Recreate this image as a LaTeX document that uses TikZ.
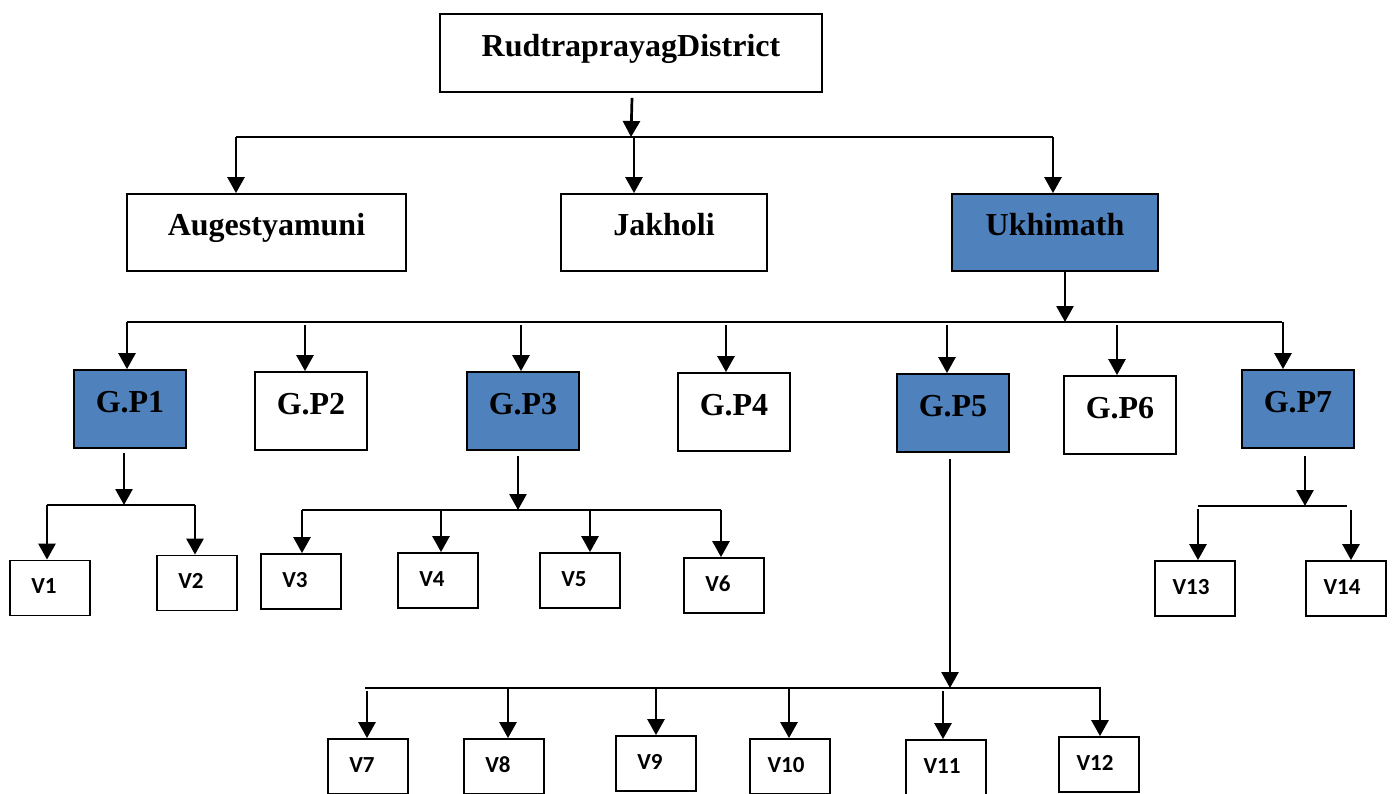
\documentclass[tikz,border=0pt]{standalone}
\usepackage{fontspec}
\setmainfont{Liberation Serif}
\newfontfamily\vfont{Carlito}
\usetikzlibrary{arrows.meta,calc}
\definecolor{gpblue}{HTML}{4F81BD}
\begin{document}
\begin{tikzpicture}[x=1pt,y=-1pt,
  hbox/.style={draw=black,line width=1.8pt,inner sep=0pt,
    font=\bfseries\fontsize{32}{38}\selectfont,text height=22pt,text depth=16pt},
  bluebox/.style={hbox,fill=gpblue},
  gpbox/.style={minimum width=112pt,minimum height=78pt},
  vbox/.style={draw=black,line width=1.8pt,inner sep=0pt,minimum width=80pt,minimum height=55pt,
    font=\vfont\bfseries\fontsize{23}{26}\selectfont,text height=14pt,text depth=3pt},
  bus/.style={line width=2pt},
  arr/.style={line width=2.7pt,-{Triangle[width=17pt,length=16pt]}}]
\useasboundingbox (0,0) rectangle (1393,793);
% level 0-1
\node[hbox,minimum width=382pt,minimum height=78pt] (rd) at (631,53) {RudtraprayagDistrict};
\node[hbox,minimum width=279pt,minimum height=77pt] (aug) at (266.5,232.5) {Augestyamuni};
\node[hbox,minimum width=206pt,minimum height=77pt] (jak) at (664,232.5) {Jakholi};
\node[bluebox,minimum width=206pt,minimum height=77pt] (ukh) at (1055,232.5) {Ukhimath};
% level 2
\node[bluebox,gpbox] (gp1) at (130,409) {G.P1};
\node[hbox,gpbox] (gp2) at (311,411) {G.P2};
\node[bluebox,gpbox] (gp3) at (523,411) {G.P3};
\node[hbox,gpbox] (gp4) at (734,412) {G.P4};
\node[bluebox,gpbox] (gp5) at (953,413) {G.P5};
\node[hbox,gpbox] (gp6) at (1120,415) {G.P6};
\node[bluebox,gpbox] (gp7) at (1298,409) {G.P7};
% villages
\node[vbox] (v1) at (50,588) {V1\hspace*{12pt}};
\node[vbox] (v2) at (197,583) {V2\hspace*{12pt}};
\node[vbox] (v3) at (301,581.5) {V3\hspace*{12pt}};
\node[vbox] (v4) at (438,580.5) {V4\hspace*{12pt}};
\node[vbox] (v5) at (580,580.5) {V5\hspace*{12pt}};
\node[vbox] (v6) at (724,585.5) {V6\hspace*{12pt}};
\node[vbox] (v7) at (368,766.5) {V7\hspace*{12pt}};
\node[vbox] (v8) at (504,766.5) {V8\hspace*{12pt}};
\node[vbox] (v9) at (656,763.5) {V9\hspace*{12pt}};
\node[vbox] (v10) at (790,766.5) {V10\hspace*{8pt}};
\node[vbox] (v11) at (946,767.5) {V11\hspace*{8pt}};
\node[vbox] (v12) at (1099,764.5) {V12\hspace*{8pt}};
\node[vbox] (v13) at (1195,588.5) {V13\hspace*{8pt}};
\node[vbox] (v14) at (1346,588.5) {V14\hspace*{8pt}};
% bus 1
\coordinate (b1l) at (236,137);
\coordinate (b1m) at (634,137);
\coordinate (b1r) at (1053,137);
\draw[bus] (b1l) -- (b1r);
\draw[arr] ($(rd.south)+(1,5)$) -- (rd.south |- b1l);
\draw[arr] (b1l) -- (b1l |- aug.north);
\draw[arr] (b1m) -- (b1m |- jak.north);
\draw[arr] (b1r) -- (b1r |- ukh.north);
% bus 2
\coordinate (b2l) at (127,322);
\coordinate (b2r) at (1282,322);
\coordinate (b2m) at (1065,322);
\draw[bus] (b2l) -- (b2r);
\draw[arr] ($(ukh.south)+(10,0)$) -- (b2m);
\coordinate (g1) at (127,322);
\coordinate (g2) at (305,322);
\coordinate (g3) at (521,322);
\coordinate (g4) at (726,322);
\coordinate (g5) at (947,322);
\coordinate (g6) at (1117,322);
\coordinate (g7) at (1283,322);
\draw[arr] (g1) -- (g1 |- gp1.north);
\draw[arr] ($(g2)+(0,3)$) -- (g2 |- gp2.north);
\draw[arr] ($(g3)+(0,3)$) -- (g3 |- gp3.north);
\draw[arr] ($(g4)+(0,3)$) -- (g4 |- gp4.north);
\draw[arr] ($(g5)+(0,3)$) -- (g5 |- gp5.north);
\draw[arr] ($(g6)+(0,3)$) -- (g6 |- gp6.north);
\draw[arr] (g7) -- (g7 |- gp7.north);
% G.P1 children
\coordinate (c1m) at (124,505);
\coordinate (c1l) at (47,505);
\coordinate (c1r) at (195,505);
\draw[bus] (c1l) -- (c1r);
\draw[arr] ($(gp1.south -| c1m)+(0,4)$) -- (c1m);
\draw[arr] (c1l) -- (c1l |- v1.north);
\draw[arr] (c1r) -- (c1r |- v2.north);
% G.P3 children
\coordinate (c3m) at (518,510);
\coordinate (c3a) at (302,510);
\coordinate (c3b) at (441,510);
\coordinate (c3c) at (590,510);
\coordinate (c3d) at (721,510);
\draw[bus] (c3a) -- (c3d);
\draw[arr] ($(gp3.south -| c3m)+(0,5)$) -- (c3m);
\draw[arr] (c3a) -- (c3a |- v3.north);
\draw[arr] (c3b) -- (c3b |- v4.north);
\draw[arr] (c3c) -- (c3c |- v5.north);
\draw[arr] (c3d) -- (c3d |- v6.north);
% G.P5 children
\coordinate (c5m) at (950,688);
\coordinate (c5l) at (365,688);
\coordinate (c5r) at (1101,688);
\coordinate (c5a) at (367,688);
\coordinate (c5b) at (508,688);
\coordinate (c5c) at (656,688);
\coordinate (c5d) at (789,688);
\coordinate (c5e) at (943,688);
\coordinate (c5f) at (1100,688);
\draw[bus] (c5l) -- (c5r);
\draw[arr] ($(gp5.south -| c5m)+(0,6)$) -- (c5m);
\draw[arr] ($(c5a)+(0,3)$) -- (c5a |- v7.north);
\draw[arr] (c5b) -- (c5b |- v8.north);
\draw[arr] (c5c) -- (c5c |- v9.north);
\draw[arr] (c5d) -- (c5d |- v10.north);
\draw[arr] ($(c5e)+(0,3)$) -- (c5e |- v11.north);
\draw[arr] (c5f) -- (c5f |- v12.north);
% G.P7 children
\coordinate (c7m) at (1305,506);
\coordinate (c7l) at (1198,506);
\coordinate (c7r) at (1347,506);
\coordinate (c7s) at (1351,510);
\draw[bus] (c7l) -- (c7r);
\draw[arr] ($(gp7.south -| c7m)+(0,7)$) -- (c7m);
\draw[arr] ($(c7l)+(0,3)$) -- (c7l |- v13.north);
\draw[arr] (c7s) -- (c7s |- v14.north);
\end{tikzpicture}
\end{document}
